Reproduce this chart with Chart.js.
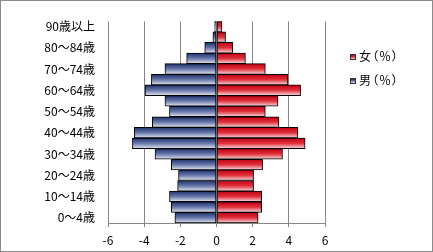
<!DOCTYPE html>
<html>
<head>
<meta charset="utf-8">
<script src="https://cdn.jsdelivr.net/npm/chart.js@4"></script>
<style>
  body { margin: 0; background: #fff; }
  #frame { position: relative; width: 433px; height: 252px; box-sizing: border-box; border: 1px solid #8a8a8a; background: #fff; }
  #chart { position: absolute; left: 0; top: 0; }
  .legend-item { position: absolute; left: 349px; height: 14px; line-height: 14px; font: 12px 'Noto Sans CJK JP', sans-serif; font-feature-settings: 'palt'; letter-spacing: 1px; color: #000; white-space: nowrap; }
  .legend-item .key { display: inline-block; width: 4px; height: 4px; border: 1px solid #333; vertical-align: middle; margin-right: 3px; position: relative; top: -1px; }
</style>
</head>
<body>
<div id="frame">
  <canvas id="chart" width="431" height="250"></canvas>
  <div class="legend-item" style="top:46px"><span class="key" style="background:linear-gradient(#c00010,#e0303c,#f8dce0)"></span>女（％）</div>
  <div class="legend-item" style="top:70px"><span class="key" style="background:linear-gradient(#1c2f6a,#6677aa,#e4e6f2)"></span>男（％）</div>
</div>
<script>
// Age groups, bottom to top
const categories = ['0～4歳', '5～9歳', '10～14歳', '15～19歳', '20～24歳', '25～29歳', '30～34歳', '35～39歳',
  '40～44歳', '45～49歳', '50～54歳', '55～59歳', '60～64歳', '65～69歳', '70～74歳', '75～79歳',
  '80～84歳', '85～89歳', '90歳以上'];

const female = [2.3, 2.5, 2.5, 2.05, 2.05, 2.55, 3.65, 4.9, 4.5, 3.45, 2.7, 3.4, 4.65, 3.95, 2.7, 1.6, 0.9, 0.5, 0.3];
const male = [-2.3, -2.5, -2.6, -2.15, -2.1, -2.5, -3.4, -4.65, -4.55, -3.55, -2.6, -2.85, -3.95, -3.6, -2.85, -1.65, -0.65, -0.2, -0.1];

const xTicks = { min: -6, max: 6, step: 2 };

// vertical gradient for each bar, dark at the top
function barGradient(top, mid, bottom) {
    return function (ctx) {
        const chart = ctx.chart;
        const y = chart.scales && chart.scales.y;
        if (!y || ctx.type !== 'data') return top;
        const c = y.getPixelForValue(ctx.dataIndex);
        const h = (y.bottom - y.top) / categories.length / 2;
        if (!isFinite(c) || !isFinite(h) || h <= 0) return top;
        const g = chart.ctx.createLinearGradient(0, c - h, 0, c + h);
        g.addColorStop(0, top);
        g.addColorStop(0.5, mid);
        g.addColorStop(1, bottom);
        return g;
    };
}

const font = { family: "'Noto Sans CJK JP', sans-serif", size: 12 };

new Chart(document.getElementById('chart'), {
    type: 'bar',
    data: {
        labels: categories,
        datasets: [
            {
                label: '女（％）',
                data: female,
                backgroundColor: barGradient('#c00010', '#e0303c', '#f8dce0'),
                borderColor: '#000',
                borderWidth: 1,
                borderSkipped: false,
                barPercentage: 1,
                categoryPercentage: 1
            },
            {
                label: '男（％）',
                data: male,
                backgroundColor: barGradient('#1c2f6a', '#6677aa', '#e4e6f2'),
                borderColor: '#000',
                borderWidth: 1,
                borderSkipped: false,
                barPercentage: 1,
                categoryPercentage: 1
            }
        ]
    },
    options: {
        indexAxis: 'y',
        responsive: false,
        animation: false,
        devicePixelRatio: 1,
        layout: { padding: { left: 0, top: 14, right: 107, bottom: 0 } },
        plugins: { legend: { display: false }, tooltip: { enabled: false } },
        scales: {
            x: {
                stacked: true,
                min: xTicks.min, max: xTicks.max,
                grid: { color: '#868686', lineWidth: 1, drawTicks: true, tickLength: 4, tickColor: '#868686' },
                border: { display: true, color: '#868686' },
                ticks: { stepSize: xTicks.step, color: '#000', font: font, padding: 6, maxRotation: 0 },
                afterFit: function (scale) { scale.height = 28; }
            },
            y: {
                stacked: true,
                reverse: true,
                grid: { display: false, drawTicks: false },
                border: { display: false },
                ticks: {
                    autoSkip: false,
                    color: '#000',
                    font: font,
                    padding: 13,
                    callback: function (v, i) { return i % 2 === 0 ? this.getLabelForValue(v) : ''; }
                },
                afterFit: function (scale) { scale.width = 107; }
            }
        }
    }
});
</script>
</body>
</html>
